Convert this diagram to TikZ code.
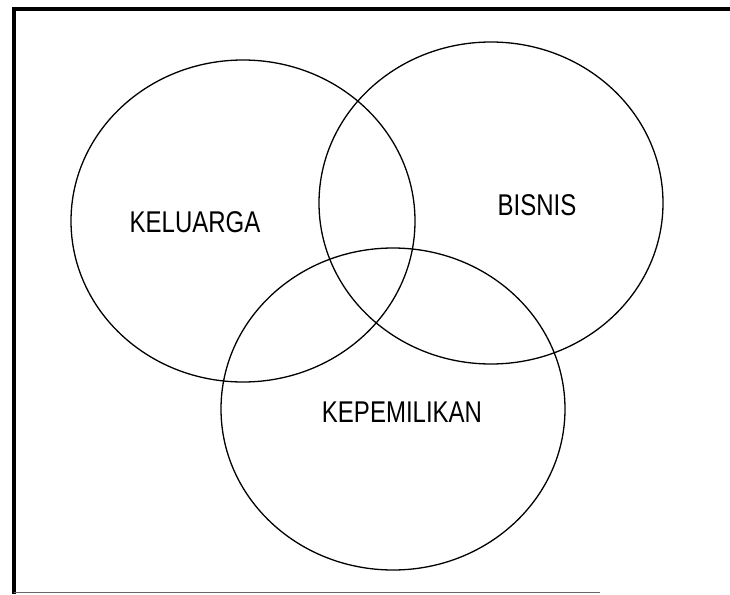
\documentclass[tikz,border=0pt]{standalone}
\usepackage{fontspec}
\usetikzlibrary{shapes.geometric}
\newfontfamily\condfont[FakeStretch=0.8]{Liberation Sans}
\begin{document}
\begin{tikzpicture}[x=1pt,y=-1pt,
  setring/.style={draw=black, line width=1.3pt, ellipse, inner sep=0pt,
    minimum width=344pt, minimum height=322pt},
  setlabel/.style={font=\condfont\fontsize{30}{30}\selectfont, inner sep=0pt, text=black}]
\useasboundingbox (0,0) rectangle (730,594);
\fill[white] (0,0) rectangle (730,594);
% frame
\coordinate (fbl) at (14,592);
\coordinate (ftl) at (14,9);
\coordinate (ftr) at (730,9);
\coordinate (fbr) at (600,592);
\draw[line width=4pt, line cap=rect] (fbl) -- (ftl) -- (ftr);
\draw[line width=1pt, black!60] (fbl) -- (fbr);
% sets
\node[setring] (keluarga) at (243,221) {};
\node[setring] (bisnis) at (491,203) {};
\node[setring] (kepemilikan) at (393,409) {};
% labels
\node[setlabel] (lk) at (195,222) {KELUARGA};
\node[setlabel] (lb) at (537,205) {BISNIS};
\node[setlabel] (lp) at (402,412) {KEPEMILIKAN};
\end{tikzpicture}
\end{document}
